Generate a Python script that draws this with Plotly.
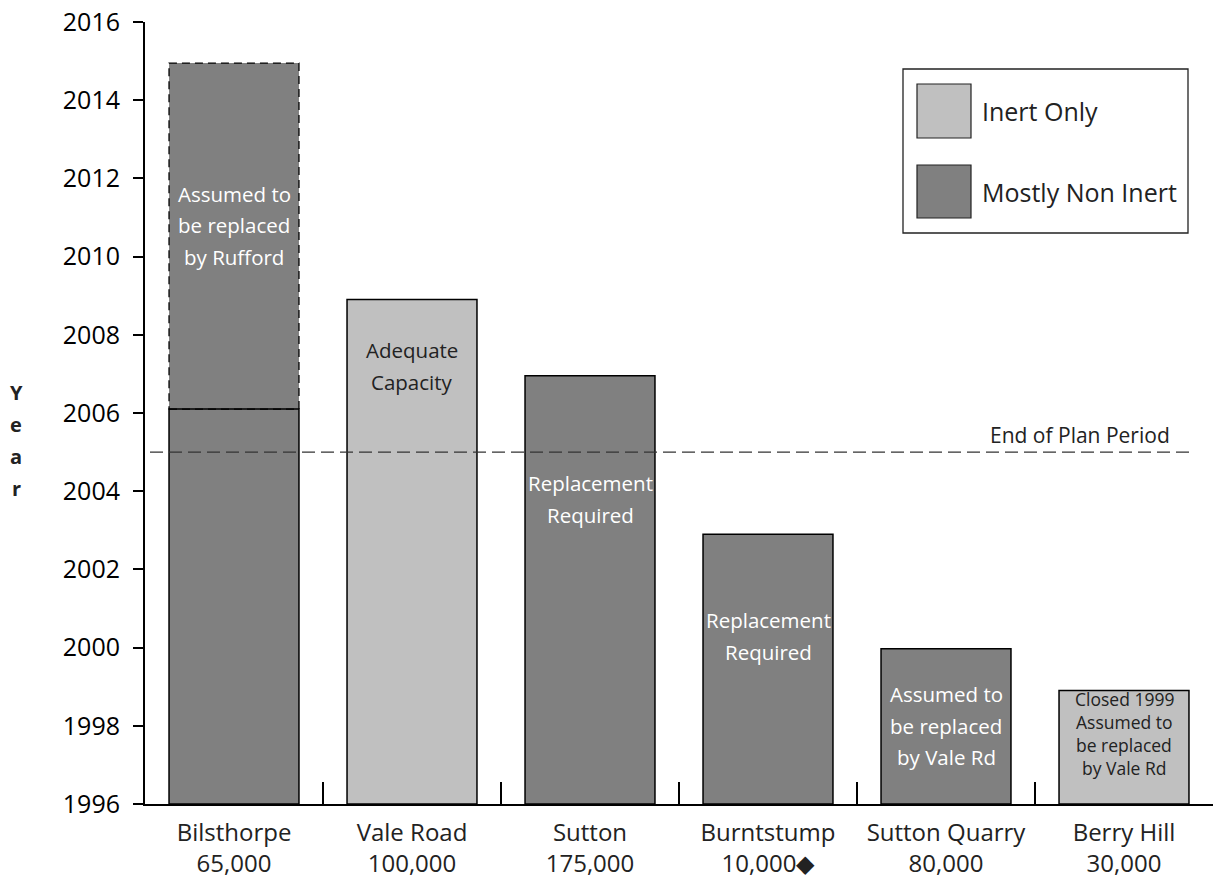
import plotly.graph_objects as go

# ---------------- data ----------------
sites = ["Bilsthorpe", "Vale Road", "Sutton", "Burntstump", "Sutton Quarry", "Berry Hill"]
capacity = ["65,000", "100,000", "175,000", "10,000\u25C6", "80,000", "30,000"]
end_year = [2006.1, 2008.9, 2006.95, 2002.9, 1999.97, 1998.9]
site_type = ["Mostly Non Inert", "Inert Only", "Mostly Non Inert",
             "Mostly Non Inert", "Mostly Non Inert", "Inert Only"]
assumed_site = "Bilsthorpe"
assumed_end = 2014.95
base_year = 1996
plan_end = 2005
bar_notes = [["Assumed to", "be replaced", "by Rufford"],
             ["Adequate", "Capacity"],
             ["Replacement", "Required"],
             ["Replacement", "Required"],
             ["Assumed to", "be replaced", "by Vale Rd"],
             ["Closed 1999", "Assumed to", "be replaced", "by Vale Rd"]]
note_y = [2010.8, 2007.2, 2003.8, 2000.3, 1998.0, 1997.8]
y_ticks = list(range(1996, 2017, 2))

# ---------------- styles ----------------
DARK = "#808080"
LIGHT = "#c0c0c0"
TXT = "#222222"
colors = {"Mostly Non Inert": DARK, "Inert Only": LIGHT}
FONT = "Open Sans"
W, H = 1215, 883
L, R, T, B = 145, 2, 22, 79
BW = 0.73

xlabels = [f"{s}<br>{c}" for s, c in zip(sites, capacity)]

fig = go.Figure()

# assumed extension (dashed outline drawn as shape)
ai = sites.index(assumed_site)
fig.add_trace(go.Bar(
    x=[xlabels[ai]], y=[assumed_end - end_year[ai]], base=[end_year[ai]],
    width=BW, marker=dict(color=DARK, line=dict(width=0)),
    showlegend=False, hoverinfo="skip"))

fig.add_trace(go.Bar(
    x=xlabels, y=[v - base_year for v in end_year], base=[base_year] * len(sites),
    width=BW,
    marker=dict(color=[colors[t] for t in site_type], line=dict(color="black", width=1.5)),
    showlegend=False))

shapes = []
shapes.append(dict(type="rect", xref="x", yref="y",
                   x0=ai - BW / 2, x1=ai + BW / 2, y0=end_year[ai], y1=assumed_end,
                   line=dict(color="black", width=1.3, dash="8px,5px"),
                   fillcolor="rgba(0,0,0,0)", layer="above"))
shapes.append(dict(type="line", xref="paper", yref="y",
                   x0=5 / 1068, x1=1045 / 1068, y0=plan_end, y1=plan_end,
                   line=dict(color="#333333", width=1.2, dash="13px,6px"), layer="above"))

pw = W - L - R
ph = H - T - B


def px(xp):
    return (xp - L) / pw


def py(yp):
    return (H - B - yp) / ph


annotations = []
# custom legend
shapes.append(dict(type="rect", xref="paper", yref="paper",
                   x0=px(903), x1=px(1188), y0=py(233), y1=py(69),
                   line=dict(color=TXT, width=1.3), fillcolor="white"))
legend_items = [("Inert Only", LIGHT, 84, 138), ("Mostly Non Inert", DARK, 165, 218)]
for name, col, ytop, ybot in legend_items:
    shapes.append(dict(type="rect", xref="paper", yref="paper",
                       x0=px(917), x1=px(971), y0=py(ybot), y1=py(ytop),
                       line=dict(color=TXT, width=1.2), fillcolor=col))
    annotations.append(dict(xref="paper", yref="paper", x=px(980), y=py((ytop + ybot) / 2),
                            text=name, showarrow=False, xanchor="left", yanchor="middle",
                            font=dict(family=FONT, size=25, color=TXT)))


def multiline(xref, yref, x, y, lines, size, color, spacing, bold=False):
    n = len(lines)
    for k, ln in enumerate(lines):
        t = f"<b>{ln}</b>" if bold else ln
        annotations.append(dict(xref=xref, yref=yref, x=x, y=y, text=t, showarrow=False,
                                xanchor="center", yanchor="middle",
                                yshift=((n - 1) / 2 - k) * spacing,
                                font=dict(family=FONT, size=size, color=color)))


# bar notes
for i, (lines, yy) in enumerate(zip(bar_notes, note_y)):
    light = colors[site_type[i]] == LIGHT
    multiline("x", "y", i, yy, lines, 17.5 if i == 5 else 20.5,
              TXT if light else "white", 23 if i == 5 else 31.5)

annotations.append(dict(xref="paper", yref="paper", x=px(1172), y=py(435),
                        text="End of Plan Period", showarrow=False, xanchor="right",
                        yanchor="middle", font=dict(family=FONT, size=21, color=TXT)))

multiline("paper", "paper", px(16), py(440), ["Y", "e", "a", "r"], 20, TXT, 32, bold=True)

fig.update_layout(
    width=W, height=H,
    margin=dict(l=L, r=R, t=T, b=B, pad=0),
    plot_bgcolor="white", paper_bgcolor="white",
    barmode="overlay",
    showlegend=False,
    shapes=shapes, annotations=annotations,
    font=dict(family=FONT, color=TXT),
)
fig.update_xaxes(
    type="category", range=[-0.5, len(sites) - 0.5],
    showline=True, linecolor="black", linewidth=2,
    ticks="inside", tickson="boundaries", ticklen=22, tickwidth=2, tickcolor="black",
    tickfont=dict(family=FONT, size=24, color=TXT),
    ticklabelstandoff=6,
    showgrid=False, zeroline=False,
)
fig.update_yaxes(
    range=[1996, 2016], tickvals=y_ticks,
    showline=True, linecolor="black", linewidth=2,
    ticks="outside", ticklen=10, tickwidth=1.5, tickcolor="black",
    tickfont=dict(family=FONT, size=25, color="black"),
    ticklabelstandoff=8,
    showgrid=False, zeroline=False,
)

fig.write_html("out.html")
